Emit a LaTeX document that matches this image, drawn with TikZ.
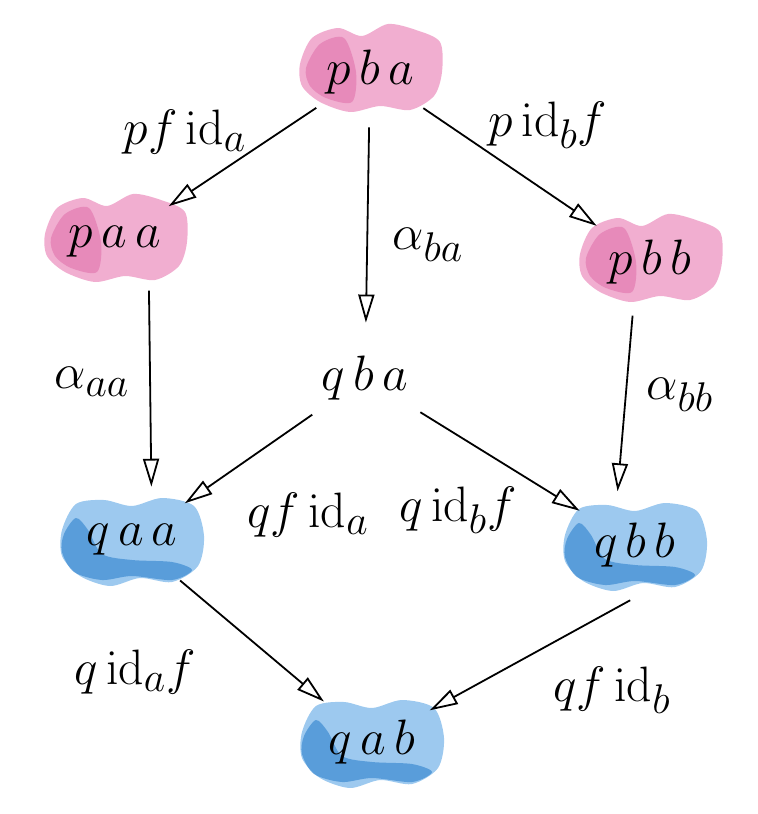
\documentclass[tikz,border=0pt]{standalone}
\usetikzlibrary{arrows.meta,shapes.geometric,backgrounds}
\definecolor{rosePale}{RGB}{238,160,200}
\definecolor{roseFonce}{RGB}{220,95,160}
\definecolor{bleuPale}{RGB}{140,192,236}
\definecolor{bleuFonce}{RGB}{45,128,205}
\tikzset{
  objet/.style={ellipse, minimum width=70pt, minimum height=55pt, inner sep=0pt,
    font=\fontsize{34}{40}\selectfont},
  etiq/.style={font=\fontsize{28}{32}\selectfont},
  fleche/.style={-{Triangle[open,length=14pt,width=8pt]}, line width=0.9pt},
  rose/.pic={
    \fill[rosePale,opacity=.85] plot[smooth cycle] coordinates {(-70,-8) (-58,-34) (-32,-44) (-8,-36) (18,-48) (46,-42) (70,-30) (72,0) (64,24) (40,38) (10,34) (-20,40) (-50,30) (-68,14)};
    \fill[roseFonce,opacity=.45] plot[smooth cycle] coordinates {(-64,-4) (-50,-28) (-26,-34) (-14,0) (-18,30) (-44,26) (-60,14)};
  },
  bleu/.pic={
    \fill[bleuPale,opacity=.85] plot[smooth cycle] coordinates {(-70,-10) (-56,-36) (-28,-40) (0,-34) (30,-42) (62,-34) (72,-4) (66,26) (40,42) (8,38) (-22,46) (-52,36) (-70,16)};
    \fill[bleuFonce,opacity=.6] plot[smooth cycle] coordinates {(-68,-6) (-56,-22) (-44,-10) (-30,14) (0,20) (40,22) (60,30) (40,40) (0,36) (-30,40) (-58,32) (-70,12)};
  },
}
\begin{document}
\begin{tikzpicture}[x=0.5pt,y=-0.5pt]
  \useasboundingbox (0,0) rectangle (758,814);
  % les objets
  \node[objet] (pba) at (370,72) {$p\,b\,a$};
  \node[objet] (paa) at (115,242) {$p\,a\,a$};
  \node[objet] (pbb) at (650,262) {$p\,b\,b$};
  \node[objet] (qba) at (365,378) {$q\,b\,a$};
  \node[objet] (qaa) at (132,540) {$q\,a\,a$};
  \node[objet] (qbb) at (635,545) {$q\,b\,b$};
  \node[objet] (qab) at (372,742) {$q\,a\,b$};
  % les taches d'aquarelle
  \begin{scope}[on background layer]
    \pic at (pba) {rose};
    \pic at (paa) {rose};
    \pic at (pbb) {rose};
    \pic at (qaa) {bleu};
    \pic at (qbb) {bleu};
    \pic at (qab) {bleu};
  \end{scope}
  % les fleches
  \draw[fleche] (pba) -- (paa);
  \draw[fleche] (pba) -- (qba);
  \draw[fleche] (pba) -- (pbb);
  \draw[fleche] (paa.-55) -- (qaa.70);
  \draw[fleche] (pbb.-108) -- (qbb.108);
  \draw[fleche] (qba) -- (qaa);
  \draw[fleche] (qba) -- (qbb);
  \draw[fleche] (qaa) -- (qab);
  \draw[fleche] (qbb.-95) -- (qab);
  % les etiquettes
  \node[etiq] (pfida) at (185,132) {$pf\,\mathrm{id}_a$};
  \node[etiq] (alphaba) at (428,245) {$\alpha_{ba}$};
  \node[etiq] (pidbf) at (548,125) {$p\,\mathrm{id}_b f$};
  \node[etiq] (alphaaa) at (92,382) {$\alpha_{aa}$};
  \node[etiq] (alphabb) at (680,395) {$\alpha_{bb}$};
  \node[etiq] (qfida) at (308,515) {$qf\,\mathrm{id}_a$};
  \node[etiq] (qidbf) at (458,510) {$q\,\mathrm{id}_b f$};
  \node[etiq] (qidaf) at (135,672) {$q\,\mathrm{id}_a f$};
  \node[etiq] (qfidb) at (612,690) {$qf\,\mathrm{id}_b$};
\end{tikzpicture}
\end{document}
